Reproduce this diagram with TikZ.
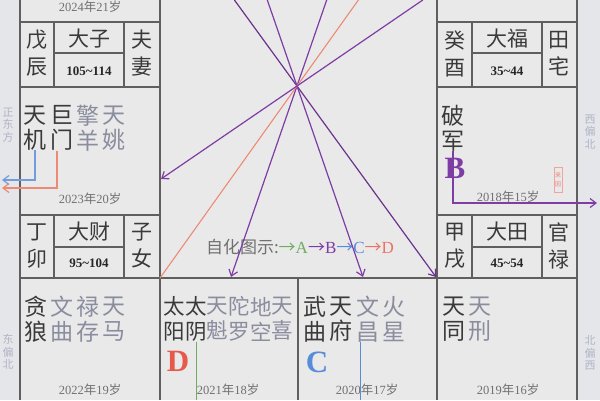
\documentclass[tikz,border=0pt]{standalone}
\usepackage{fontspec}
\setmainfont{Liberation Serif}
\newfontfamily\cjk{Noto Sans CJK SC}
\usepackage{tikz}
\usetikzlibrary{arrows.meta}

\definecolor{bgc}{RGB}{233,233,233}
\definecolor{stripc}{RGB}{229,230,234}
\definecolor{gridc}{RGB}{95,95,95}
\definecolor{darkc}{RGB}{58,58,58}
\definecolor{lightc}{RGB}{138,141,158}
\definecolor{yearc}{RGB}{112,112,112}
\definecolor{sidec}{RGB}{176,180,198}
\definecolor{hualu}{RGB}{112,172,100}
\definecolor{huaquan}{RGB}{126,60,165}
\definecolor{huake}{RGB}{88,140,218}
\definecolor{huaji}{RGB}{230,90,75}
\definecolor{jiline}{RGB}{236,138,118}

\newcommand{\nianling}[2]{#1{\cjk 年}#2{\cjk 岁}}

\begin{document}
\begin{tikzpicture}[x=1pt, y=-1pt,
    gridln/.style={draw=gridc, line width=1.2pt},
    zhuxing/.style={text=darkc, font=\cjk\fontsize{23}{25}\selectfont, align=center, inner sep=0pt},
    fuxing/.style={zhuxing, text=lightc},
    zhuxingn/.style={zhuxing, font=\cjk\fontsize{21.5}{25}\selectfont},
    fuxingn/.style={zhuxingn, text=lightc},
    nian/.style={text=yearc, font=\fontsize{12.5}{13}\selectfont, inner sep=0pt},
    gong/.style={text=darkc, font=\cjk\fontsize{21}{27}\selectfont, align=center, inner sep=0pt},
    daxian/.style={text=black!85, font=\bfseries\fontsize{13}{14}\selectfont, inner sep=0pt},
    fangwei/.style={text=sidec, font=\cjk\fontsize{11}{12.5}\selectfont, align=center, inner sep=0pt},
    sihua/.style={font=\bfseries\fontsize{31}{31}\selectfont, inner sep=0pt},
    feixing/.style={line width=1.2pt, -{Straight Barb[length=6pt,width=9pt]}}]

  % Background
  \path[use as bounding box, fill=bgc] (0,0) rectangle (600,400);
  \fill[stripc] (0,0) rectangle (20,400);
  \fill[stripc] (577,0) rectangle (600,400);

  % Grid
  \draw[gridln] (20,0) -- (20,400) (160,0) -- (160,400) (437,0) -- (437,400) (577,0) -- (577,400);
  \draw[gridln] (20,278) -- (577,278) (298,278) -- (298,400);
  \foreach \xa/\xb/\xc/\xd in {20/54/124/160, 437/472/542/577}
    \foreach \ya/\yb/\yc in {22/53/87, 215/247/278}
      \draw[gridln] (\xa,\ya) -- (\xd,\ya) (\xa,\yc) -- (\xd,\yc)
        (\xb,\ya) -- (\xb,\yc) (\xc,\ya) -- (\xc,\yc) (\xb,\yb) -- (\xc,\yb);

  % Palace boxes
  \node[gong] (wuchen) at (37,53.5) {戊\\辰};
  \node[gong] (dazi) at (89,39) {大子};
  \node[daxian] (dazinum) at (89,71) {105\textasciitilde114};
  \node[gong] (fuqi) at (142,53.5) {夫\\妻};
  \node[gong] (dingmao) at (37,246) {丁\\卯};
  \node[gong] (dacai) at (89,232) {大财};
  \node[daxian] (dacainum) at (89,263) {95\textasciitilde104};
  \node[gong] (zinv) at (142,246) {子\\女};
  \node[gong] (guiyou) at (455,53.5) {癸\\酉};
  \node[gong] (dafu) at (507,39) {大福};
  \node[daxian] (dafunum) at (507,71) {35\textasciitilde44};
  \node[gong] (tianzhai) at (559,53.5) {田\\宅};
  \node[gong] (jiaxu) at (455,246) {甲\\戌};
  \node[gong] (datian) at (507,232) {大田};
  \node[daxian] (datiannum) at (507,263) {45\textasciitilde54};
  \node[gong] (guanlu) at (559,246) {官\\禄};

  % Stars
  \foreach \x/\a/\b/\s [count=\i] in {35/天/机/zhuxing, 62/巨/门/zhuxing, 88/擎/羊/fuxing, 114/天/姚/fuxing}
    \node[\s] (zuo\i) at (\x,128) {\a\\\b};
  \node[zhuxing] (you1) at (453,128) {破\\军};
  \foreach \x/\a/\b/\s [count=\i] in {36/贪/狼/zhuxing, 62/文/曲/fuxing, 88/禄/存/fuxing, 114/天/马/fuxing}
    \node[\s] (dia\i) at (\x,319) {\a\\\b};
  \foreach \x/\a/\b/\s [count=\i] in {174/太/阳/zhuxingn, 196/太/阴/zhuxingn, 217/天/魁/fuxingn, 239/陀/罗/fuxingn, 261/地/空/fuxingn, 282/天/喜/fuxingn}
    \node[\s] (dib\i) at (\x,319) {\a\\\b};
  \foreach \x/\a/\b/\s [count=\i] in {315/武/曲/zhuxing, 341/天/府/zhuxing, 368/文/昌/fuxing, 394/火/星/fuxing}
    \node[\s] (dic\i) at (\x,319) {\a\\\b};
  \foreach \x/\a/\b/\s [count=\i] in {454/天/同/zhuxing, 480/天/刑/fuxing}
    \node[\s] (did\i) at (\x,319) {\a\\\b};

  % Years
  \node[nian] (n2024) at (90,7) {\nianling{2024}{21}};
  \node[nian] (n2023) at (90,199) {\nianling{2023}{20}};
  \node[nian] (n2018) at (508,197) {\nianling{2018}{15}};
  \node[nian] (n2022) at (90,390) {\nianling{2022}{19}};
  \node[nian] (n2021) at (228,390) {\nianling{2021}{18}};
  \node[nian] (n2020) at (367,390) {\nianling{2020}{17}};
  \node[nian] (n2019) at (508,390) {\nianling{2019}{16}};

  % Sihua marks
  \node[sihua, text=huaquan] (quanB) at (455,168) {B};
  \node[sihua, text=huaji] (jiD) at (178,361) {D};
  \node[sihua, text=huake] (keC) at (317,362) {C};
  \node[draw=huaji!55, text=huaji!75, font=\cjk\fontsize{6}{9}\selectfont, align=center,
    inner sep=0.8pt, minimum height=25pt, line width=0.5pt] (laiyin) at (558,180) {来\\因};

  % Directions
  \node[fangwei] (zhengdong) at (8,125) {正\\东\\方};
  \node[fangwei] (dongpianbei) at (8,352) {东\\偏\\北};
  \node[fangwei] (xipianbei) at (590,132) {西\\偏\\北};
  \node[fangwei] (beipianxi) at (590,353) {北\\偏\\西};

  % Legend
  \node[font=\fontsize{17}{17}\selectfont, text=yearc, inner sep=0pt] (tushi) at (300,247)
    {{\cjk 自化图示:}\textcolor{hualu}{{\cjk →}A}\textcolor{huaquan}{{\cjk →}B}\textcolor{huake}{{\cjk →}C}\textcolor{huaji!85}{{\cjk →}D}};

  % Flying lines
  \coordinate (t1) at (234.4,0);  \coordinate (e1) at (436,277);
  \coordinate (t2) at (267.3,0);  \coordinate (e2) at (363,277);
  \coordinate (t3) at (326.7,0);  \coordinate (e3) at (231,277);
  \coordinate (t4) at (358.4,0);  \coordinate (e4) at (160,278);
  \coordinate (t5) at (422.8,0);  \coordinate (e5) at (161,179);
  \draw[feixing, draw=huaquan!85!black] (t1) -- (e1);
  \draw[feixing, draw=huaquan] (t2) -- (e2);
  \draw[feixing, draw=huaquan] (t3) -- (e3);
  \draw[line width=1.1pt, draw=jiline] (t4) -- (e4);
  \draw[feixing, draw=huaquan] (t5) -- (e5);

  % Self transforms
  \coordinate (zuoC) at (2,180);
  \coordinate (zuoD) at (2,188);
  \coordinate (youB) at (597,203);
  \coordinate (diA) at (196,400);
  \coordinate (diC) at (360,400);
  \draw[feixing, draw=huake!85] (zuo1.south) |- (zuoC);
  \draw[feixing, draw=jiline] ([xshift=-5pt]zuo2.south) |- (zuoD);
  \draw[feixing, draw=huaquan] (you1.south) |- (youB);
  \draw[line width=1pt, draw=hualu] (dib2.south) -- (diA);
  \draw[line width=1pt, draw=huake] ([xshift=-8pt]dic3.south) -- (diC);
\end{tikzpicture}
\end{document}
